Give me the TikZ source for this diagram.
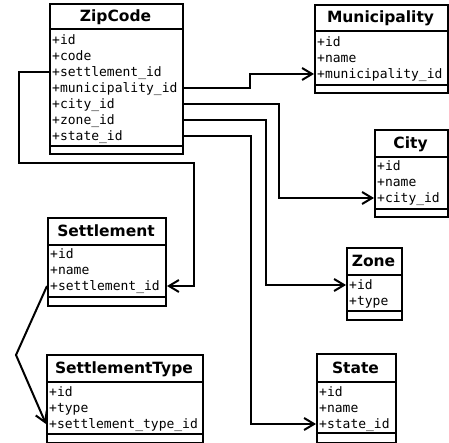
\documentclass[tikz,border=0pt]{standalone}
\usepackage{fontspec}
\usetikzlibrary{arrows.meta}
\newfontfamily\ttlfam{DejaVu Sans}
\newfontfamily\monofam{DejaVu Sans Mono}
\begin{document}
\begin{tikzpicture}[x=1pt,y=-1pt,
  cls/.style={draw, line width=2pt, rectangle, inner sep=0pt, anchor=north west},
  ttl/.style={font=\ttlfam\bfseries\fontsize{15.5}{15.5}\selectfont, inner sep=0pt, anchor=base},
  attr/.style={font=\monofam\fontsize{13}{13}\selectfont, inner sep=0pt, anchor=west, text height=11pt, text depth=2pt, xshift=1pt},
  sepline/.style={line width=2pt},
  conn/.style={line width=2pt, -{Straight Barb[length=10pt,width=12pt]}}]
\useasboundingbox (0,0) rectangle (449,443);

% ZipCode
\node[cls, minimum width=133pt, minimum height=150pt] (zc) at (49,3) {};
\node[ttl] (zct) at (115.5,21.5) {ZipCode};
\draw[sepline] (zc.west |- 0,29) -- (zc.east |- 0,29);
\draw[sepline] (zc.west |- 0,146) -- (zc.east |- 0,146);
\node[attr] (zcid) at (51,40) {+id};
\node[attr] (zccode) at (51,56) {+code};
\node[attr] (zcset) at (51,72) {+settlement\_id};
\node[attr] (zcmun) at (51,88) {+municipality\_id};
\node[attr] (zccity) at (51,104) {+city\_id};
\node[attr] (zczone) at (51,120) {+zone\_id};
\node[attr] (zcstate) at (51,136) {+state\_id};

% Municipality
\node[cls, minimum width=133pt, minimum height=88pt] (mun) at (314,4) {};
\node[ttl] (munt) at (380.5,23) {Municipality};
\draw[sepline] (mun.west |- 0,31) -- (mun.east |- 0,31);
\draw[sepline] (mun.west |- 0,85) -- (mun.east |- 0,85);
\node[attr] (munid) at (316,42) {+id};
\node[attr] (munname) at (316,58) {+name};
\node[attr] (munmun) at (316,74) {+municipality\_id};

% City
\node[cls, minimum width=73pt, minimum height=87pt] (city) at (374,129) {};
\node[ttl] (cityt) at (410.5,148.5) {City};
\draw[sepline] (city.west |- 0,157) -- (city.east |- 0,157);
\draw[sepline] (city.west |- 0,209) -- (city.east |- 0,209);
\node[attr] (cityid) at (376,166) {+id};
\node[attr] (cityname) at (376,182) {+name};
\node[attr] (citycity) at (376,198) {+city\_id};

% Zone
\node[cls, minimum width=55pt, minimum height=72pt] (zone) at (346,247) {};
\node[ttl] (zonet) at (373.5,266.5) {Zone};
\draw[sepline] (zone.west |- 0,275) -- (zone.east |- 0,275);
\draw[sepline] (zone.west |- 0,311) -- (zone.east |- 0,311);
\node[attr] (zoneid) at (348,285) {+id};
\node[attr] (zonetype) at (348,301) {+type};

% State
\node[cls, minimum width=79pt, minimum height=89pt] (state) at (316,353) {};
\node[ttl] (statet) at (355.5,373) {State};
\draw[sepline] (state.west |- 0,382) -- (state.east |- 0,382);
\draw[sepline] (state.west |- 0,433) -- (state.east |- 0,433);
\node[attr] (stateid) at (318,392) {+id};
\node[attr] (statename) at (318,408) {+name};
\node[attr] (statestate) at (318,424) {+state\_id};

% Settlement
\node[cls, minimum width=118pt, minimum height=88pt] (st) at (47,217) {};
\node[ttl] (stt) at (106,236.5) {Settlement};
\draw[sepline] (st.west |- 0,245) -- (st.east |- 0,245);
\draw[sepline] (st.west |- 0,297) -- (st.east |- 0,297);
\node[attr] (stid) at (49,254) {+id};
\node[attr] (stname) at (49,270) {+name};
\node[attr] (stset) at (49,286) {+settlement\_id};

% SettlementType
\node[cls, minimum width=156pt, minimum height=88pt] (sty) at (46,354) {};
\node[ttl] (styt) at (124,373.5) {SettlementType};
\draw[sepline] (sty.west |- 0,382) -- (sty.east |- 0,382);
\draw[sepline] (sty.west |- 0,434) -- (sty.east |- 0,434);
\node[attr] (styid) at (48,392) {+id};
\node[attr] (stytype) at (48,408) {+type};
\node[attr] (styst) at (48,424) {+settlement\_type\_id};

% connectors
\coordinate (k1) at (19,163);
\coordinate (k2) at (194,163);
\coordinate (k3) at (16,355);
\draw[conn] (zc.east |- zcmun) -- ++(66,0) |- (mun.west |- munmun);
\draw[conn] (zc.east |- zccity) -- ++(95,0) |- (city.west |- citycity);
\draw[conn] (zc.east |- zczone) -- ++(82,0) |- (zone.west |- zoneid);
\draw[conn] (zc.east |- zcstate) -- ++(67,0) |- (state.west |- statestate);
\draw[conn] (zc.west |- zcset) -| (k1) -- (k2) |- (st.east |- stset);
\draw[conn] (st.west |- stset) -- (k3) -- (sty.west |- styst);
\end{tikzpicture}
\end{document}
